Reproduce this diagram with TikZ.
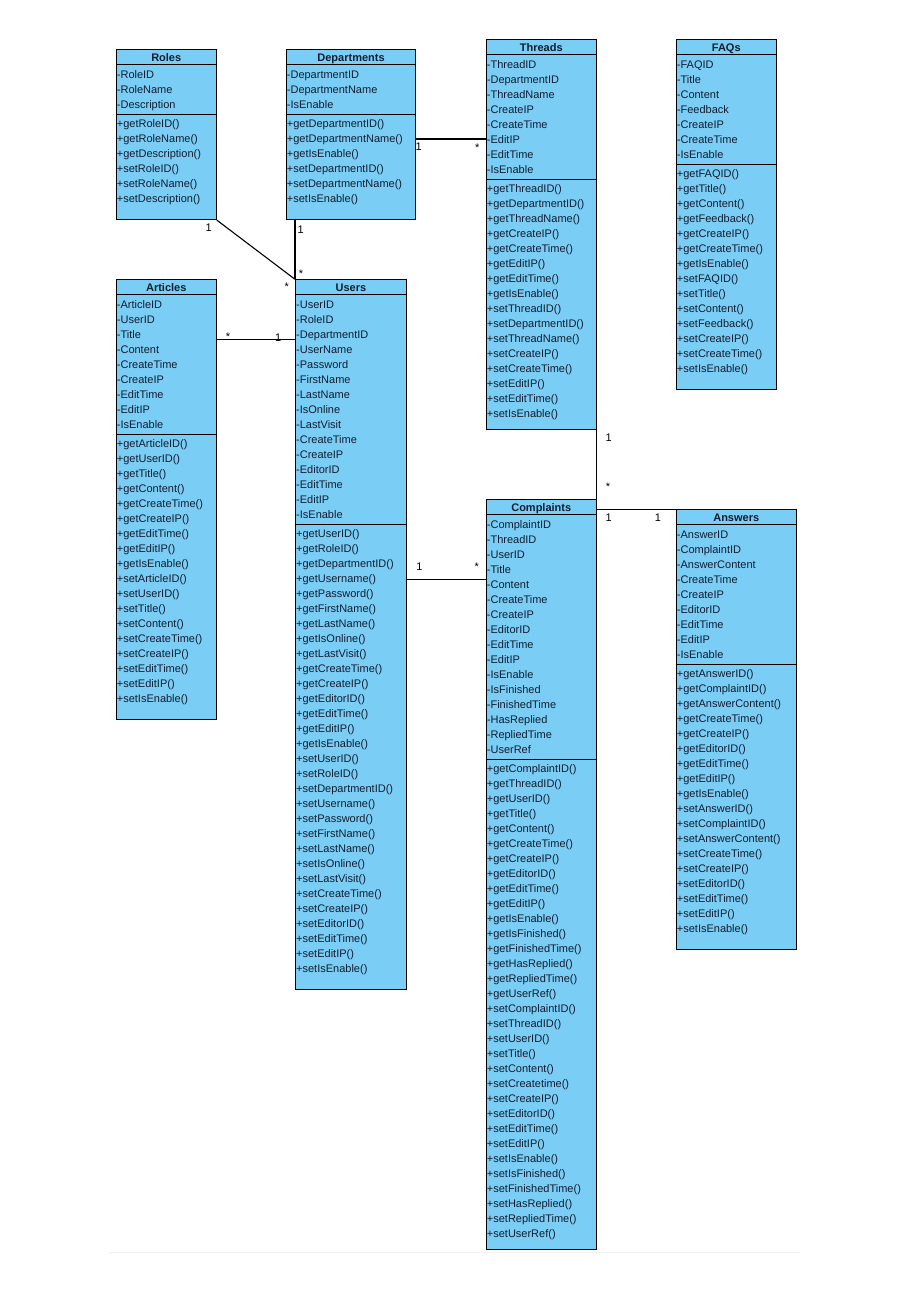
\documentclass[tikz,border=0pt]{standalone}
\usepackage{fontspec}
\setmainfont{Liberation Sans}
\usetikzlibrary{calc}
\definecolor{classblue}{RGB}{122,206,245}
\definecolor{inkblue}{RGB}{18,28,48}
\tikzset{
  classbox/.style={draw, fill=classblue, line width=1.1pt, inner sep=0pt, anchor=north west},
  classhead/.style={draw, line width=1.1pt, inner sep=0pt, minimum height=15pt, text height=8.6pt, text depth=1pt, anchor=north west, text=inkblue, font=\fontsize{11pt}{13pt}\selectfont\bfseries},
  member/.style={inner sep=0pt, anchor=base west, text=inkblue, font=\fontsize{11pt}{13pt}\selectfont},
  mult/.style={inner sep=0pt, font=\fontsize{11pt}{13pt}\selectfont},
  assoc/.style={line width=1.1pt},
}
% #1 name, #2 top left, #3 width, #4 height, #5 title, #6 attributes, #7 operations
\newcommand{\umlclass}[7]{%
  \node[classbox, minimum width=#3, minimum height=#4] (#1) at (#2) {};
  \node[classhead, minimum width=#3] (#1-h) at (#1.north west) {#5};
  \foreach \m [count=\i] in {#6}{%
    \node[member] (#1-a\i) at ($(#1-h.south west)+(1,{13.4+15*(\i-1)})$) {\m};
    \xdef\nattr{\i}}
  \coordinate (#1-d) at ($(#1-h.south west)+(0,{15*\nattr+4})$);
  \draw[line width=1.1pt] (#1-d) -- (#1-d -| #1.east);
  \foreach \m [count=\i] in {#7}{%
    \node[member] (#1-m\i) at ($(#1-d)+(1,{13.4+15*(\i-1)})$) {\m};}
}

\begin{document}
\begin{tikzpicture}[x=1pt, y=-1pt]
  \useasboundingbox (0,0) rectangle (913,1291);
  \draw[black!5] (108,1252) -- (800,1252);

  \umlclass{roles}{115.7,49.3}{100pt}{169.7pt}{Roles}
    {-RoleID,-RoleName,-Description}
    {+getRoleID(),+getRoleName(),+getDescription(),+setRoleID(),+setRoleName(),+setDescription()}
  \umlclass{departments}{285.7,49.3}{129.6pt}{169.7pt}{Departments}
    {-DepartmentID,-DepartmentName,-IsEnable}
    {+getDepartmentID(),+getDepartmentName(),+getIsEnable(),+setDepartmentID(),+setDepartmentName(),+setIsEnable()}
  \umlclass{threads}{485.7,39.3}{110pt}{390pt}{Threads}
    {-ThreadID,-DepartmentID,-ThreadName,-CreateIP,-CreateTime,-EditIP,-EditTime,-IsEnable}
    {+getThreadID(),+getDepartmentID(),+getThreadName(),+getCreateIP(),+getCreateTime(),+getEditIP(),+getEditTime(),+getIsEnable(),
     +setThreadID(),+setDepartmentID(),+setThreadName(),+setCreateIP(),+setCreateTime(),+setEditIP(),+setEditTime(),+setIsEnable()}
  \umlclass{faqs}{675.7,39.3}{100pt}{349.7pt}{FAQs}
    {-FAQID,-Title,-Content,-Feedback,-CreateIP,-CreateTime,-IsEnable}
    {+getFAQID(),+getTitle(),+getContent(),+getFeedback(),+getCreateIP(),+getCreateTime(),+getIsEnable(),
     +setFAQID(),+setTitle(),+setContent(),+setFeedback(),+setCreateIP(),+setCreateTime(),+setIsEnable()}
  \umlclass{articles}{115.7,279.3}{100pt}{439.7pt}{Articles}
    {-ArticleID,-UserID,-Title,-Content,-CreateTime,-CreateIP,-EditTime,-EditIP,-IsEnable}
    {+getArticleID(),+getUserID(),+getTitle(),+getContent(),+getCreateTime(),+getCreateIP(),+getEditTime(),+getEditIP(),+getIsEnable(),
     +setArticleID(),+setUserID(),+setTitle(),+setContent(),+setCreateTime(),+setCreateIP(),+setEditTime(),+setEditIP(),+setIsEnable()}
  \umlclass{users}{295,279.3}{110.7pt}{709.2pt}{Users}
    {-UserID,-RoleID,-DepartmentID,-UserName,-Password,-FirstName,-LastName,-IsOnline,-LastVisit,-CreateTime,-CreateIP,-EditorID,-EditTime,-EditIP,-IsEnable}
    {+getUserID(),+getRoleID(),+getDepartmentID(),+getUsername(),+getPassword(),+getFirstName(),+getLastName(),+getIsOnline(),+getLastVisit(),
     +getCreateTime(),+getCreateIP(),+getEditorID(),+getEditTime(),+getEditIP(),+getIsEnable(),
     +setUserID(),+setRoleID(),+setDepartmentID(),+setUsername(),+setPassword(),+setFirstName(),+setLastName(),+setIsOnline(),+setLastVisit(),
     +setCreateTime(),+setCreateIP(),+setEditorID(),+setEditTime(),+setEditIP(),+setIsEnable()}
  \umlclass{complaints}{485.7,499.3}{110pt}{750pt}{Complaints}
    {-ComplaintID,-ThreadID,-UserID,-Title,-Content,-CreateTime,-CreateIP,-EditorID,-EditTime,-EditIP,-IsEnable,-IsFinished,-FinishedTime,-HasReplied,-RepliedTime,-UserRef}
    {+getComplaintID(),+getThreadID(),+getUserID(),+getTitle(),+getContent(),+getCreateTime(),+getCreateIP(),+getEditorID(),+getEditTime(),+getEditIP(),
     +getIsEnable(),+getIsFinished(),+getFinishedTime(),+getHasReplied(),+getRepliedTime(),+getUserRef(),
     +setComplaintID(),+setThreadID(),+setUserID(),+setTitle(),+setContent(),+setCreatetime(),+setCreateIP(),+setEditorID(),+setEditTime(),+setEditIP(),
     +setIsEnable(),+setIsFinished(),+setFinishedTime(),+setHasReplied(),+setRepliedTime(),+setUserRef()}
  \umlclass{answers}{675.7,509.3}{120pt}{439.7pt}{Answers}
    {-AnswerID,-ComplaintID,-AnswerContent,-CreateTime,-CreateIP,-EditorID,-EditTime,-EditIP,-IsEnable}
    {+getAnswerID(),+getComplaintID(),+getAnswerContent(),+getCreateTime(),+getCreateIP(),+getEditorID(),+getEditTime(),+getEditIP(),+getIsEnable(),
     +setAnswerID(),+setComplaintID(),+setAnswerContent(),+setCreateTime(),+setCreateIP(),+setEditorID(),+setEditTime(),+setEditIP(),+setIsEnable()}

  % roles -- users
  \draw[assoc] (roles.south east) -- (users.north west);
  \node[mult] (ru1) at ($(roles.south east)+(-8,7.7)$) {1};
  \node[mult] (ru2) at ($(users.north west)+(-8.3,7.7)$) {*};
  % departments -- users
  \draw[assoc] (users.north west |- departments.south) coordinate (du) -- (users.north west);
  \node[mult] (du1) at ($(du)+(5.7,9.7)$) {1};
  \node[mult] (du2) at ($(users.north west)+(6,-5.6)$) {*};
  % articles -- users
  \coordinate (au) at ($(articles.north east)+(0,60)$);
  \draw[assoc] (au) -- (au -| users.west);
  \node[mult] (au1) at ($(au)+(11.3,-2.3)$) {*};
  \node[mult] (au2) at ($(au -| users.west)+(-16.7,-1.6)$) {1};
  % departments -- threads
  \coordinate (dt) at ($(departments.north east)+(0,89.7)$);
  \draw[assoc] (dt) -- (dt -| threads.west);
  \node[mult] (dt1) at ($(dt)+(2.4,8)$) {1};
  \node[mult] (dt2) at ($(dt -| threads.west)+(-8.4,8.7)$) {*};
  % threads -- complaints
  \draw[assoc] (threads.south east) -- (complaints.north east);
  \node[mult] (tc1) at ($(threads.south east)+(12,7.4)$) {1};
  \node[mult] (tc2) at ($(complaints.north east)+(11.3,-12.6)$) {*};
  % complaints -- answers
  \draw[assoc] (complaints.east |- answers.north west) coordinate (ca) -- (answers.north west);
  \node[mult] (ca1) at ($(ca)+(12,8.4)$) {1};
  \node[mult] (ca2) at ($(answers.north west)+(-17.7,8.4)$) {1};
  % users -- complaints
  \coordinate (uc) at ($(users.north east)+(0,300)$);
  \draw[assoc] (uc) -- (uc -| complaints.west);
  \node[mult] (uc1) at ($(uc)+(12.6,-12.6)$) {1};
  \node[mult] (uc2) at ($(uc -| complaints.west)+(-9,-13)$) {*};
\end{tikzpicture}
\end{document}
